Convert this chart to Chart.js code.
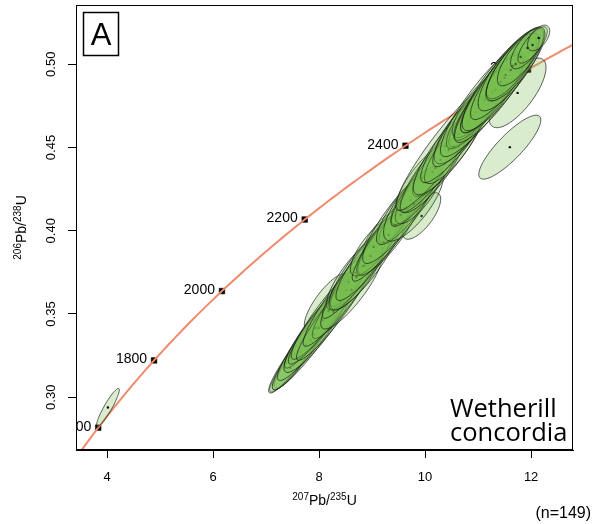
<!DOCTYPE html>
<html>
<head>
<meta charset="utf-8">
<script src="https://cdn.jsdelivr.net/npm/chart.js@4.4.1/dist/chart.umd.min.js"></script>
<style>
  html, body { margin: 0; padding: 0; background: #fff; }
  #wrap { width: 603px; height: 524px; position: relative; }
</style>
</head>
<body>
<div id="wrap"><canvas id="concordia-chart"></canvas></div>
<script>
// axis ticks
const xTicks = [4, 6, 8, 10, 12];
const yTicks = [0.30, 0.35, 0.40, 0.45, 0.50];

// labelled ages on the concordia (Ma)
const markerAges = [1600, 1800, 2000, 2200, 2400, 2600];

// analyses: 207Pb/235U, 206Pb/238U, 2s errors and error correlation
const ratio75 = [8.142, 9.198, 9.934, 11.745,
    7.462, 7.594, 7.651, 7.745, 7.840, 7.896, 7.934, 7.991, 8.066, 8.179, 8.274, 8.406, 8.519, 8.557, 8.613, 8.689,
    8.708, 8.821, 8.850, 8.972, 9.029, 9.217, 9.311, 9.406, 9.444, 9.538, 9.632, 9.726, 9.783, 9.877, 9.953, 10.010,
    10.142, 10.198, 10.292, 10.387, 10.444, 10.538, 10.632, 10.727, 10.821, 10.859, 10.953, 11.009, 11.123, 11.198,
    11.274, 11.330, 11.387, 11.425, 11.500, 11.519, 11.613, 11.651, 11.708, 11.802, 11.934, 12.028, 12.142,
    11.598, 4.017];
const ratio68 = [0.3572, 0.3969, 0.4089, 0.4828,
    0.3176, 0.3236, 0.3272, 0.3314, 0.3344, 0.3380, 0.3416, 0.3416, 0.3464, 0.3518, 0.3512, 0.3572, 0.3644, 0.3692, 0.3644, 0.3746,
    0.3722, 0.3788, 0.3790, 0.3848, 0.3903, 0.3933, 0.3975, 0.4035, 0.4035, 0.4095, 0.4137, 0.4185, 0.4161, 0.4215, 0.4317, 0.4293,
    0.4353, 0.4377, 0.4425, 0.4509, 0.4485, 0.4503, 0.4581, 0.4623, 0.4653, 0.4677, 0.4713, 0.4756, 0.4785, 0.4810,
    0.4833, 0.4846, 0.4881, 0.4894, 0.4918, 0.4936, 0.4966, 0.4990, 0.5002, 0.5044, 0.5098, 0.5116, 0.5158,
    0.4502, 0.2938];
const err75 = [0.420, 0.380, 0.360, 0.536,
    0.304, 0.472, 0.583, 0.697, 0.723, 0.681, 0.585, 0.653, 0.645, 0.704, 0.700, 0.534, 0.819, 0.368, 0.581, 0.549,
    0.491, 0.759, 0.662, 0.653, 0.438, 0.485, 0.602, 0.277, 0.819, 0.715, 0.549, 0.374, 0.566, 0.438, 0.491, 0.653,
    0.608, 0.438, 0.766, 0.940, 0.666, 0.549, 0.715, 0.555, 0.374, 0.715, 0.549, 0.496, 0.834, 0.657,
    0.608, 0.774, 0.715, 0.725, 0.359, 0.662, 0.613, 0.496, 0.555, 0.438, 0.322, 0.277, 0.209,
    0.585, 0.215];
const err68 = [0.0170, 0.0150, 0.0140, 0.0209,
    0.0122, 0.0193, 0.0241, 0.0289, 0.0299, 0.0280, 0.0241, 0.0267, 0.0265, 0.0290, 0.0290, 0.0219, 0.0338, 0.0147, 0.0234, 0.0220,
    0.0196, 0.0314, 0.0268, 0.0267, 0.0173, 0.0196, 0.0244, 0.0109, 0.0338, 0.0292, 0.0220, 0.0148, 0.0223, 0.0173, 0.0196, 0.0267,
    0.0245, 0.0173, 0.0315, 0.0387, 0.0269, 0.0220, 0.0292, 0.0221, 0.0148, 0.0292, 0.0220, 0.0197, 0.0340, 0.0267,
    0.0245, 0.0316, 0.0292, 0.0293, 0.0140, 0.0268, 0.0246, 0.0197, 0.0221, 0.0173, 0.0125, 0.0109, 0.0077,
    0.0192, 0.0115];
const errCorr = [0.80, 0.72, 0.72, 0.73,
    0.85, 0.92, 0.95, 0.95, 0.94, 0.93, 0.93, 0.90, 0.93, 0.93, 0.94, 0.90, 0.94, 0.82, 0.86, 0.84,
    0.82, 0.94, 0.87, 0.90, 0.78, 0.85, 0.87, 0.76, 0.94, 0.89, 0.84, 0.79, 0.76, 0.78, 0.82, 0.90,
    0.85, 0.78, 0.92, 0.93, 0.85, 0.84, 0.89, 0.81, 0.79, 0.89, 0.84, 0.80, 0.89, 0.89,
    0.85, 0.89, 0.89, 0.86, 0.72, 0.87, 0.82, 0.80, 0.81, 0.78, 0.71, 0.76, 0.54,
    0.85, 0.92];

// decay constants (1/Ma)
const lambda235 = 9.8485e-4;
const lambda238 = 1.55125e-4;
const conc75 = t => Math.exp(lambda235 * t) - 1;
const conc68 = t => Math.exp(lambda238 * t) - 1;

const curveAges = [];
for (let t = 1300; t <= 3000; t += 10) curveAges.push(t);

const FONT = '"Liberation Sans", Arial, sans-serif';

function drawIsotopeText(ctx, parts, cx, baseline) {
    const big = '14px ' + FONT, small = '10px ' + FONT;
    let total = 0;
    parts.forEach(([txt, sup]) => { ctx.font = sup ? small : big; total += ctx.measureText(txt).width; });
    let x = cx - total / 2;
    ctx.textAlign = 'left';
    ctx.textBaseline = 'alphabetic';
    parts.forEach(([txt, sup]) => {
        ctx.font = sup ? small : big;
        ctx.fillText(txt, x, sup ? baseline - 5 : baseline);
        x += ctx.measureText(txt).width;
    });
}

const concordiaPlugin = {
    id: 'concordiaExtras',
    beforeDatasetsDraw(chart) {
        const { ctx, chartArea: a, scales: { x, y } } = chart;
        ctx.save();
        ctx.beginPath();
        ctx.rect(a.left, a.top, a.right - a.left, a.bottom - a.top);
        ctx.clip();
        ctx.font = '14px ' + FONT;
        ctx.fillStyle = '#000';
        ctx.textAlign = 'right';
        ctx.textBaseline = 'middle';
        markerAges.forEach(t => {
            ctx.fillText(String(t), x.getPixelForValue(conc75(t)) - 7, y.getPixelForValue(conc68(t)) - 1);
        });
        ctx.restore();
    },
    afterDatasetsDraw(chart) {
        const { ctx, chartArea: a, scales: { x, y } } = chart;
        ctx.save();
        ctx.beginPath();
        ctx.rect(a.left, a.top, a.right - a.left, a.bottom - a.top);
        ctx.clip();
        const n = 90;
        ratio75.forEach((cx, i) => {
            const cy = ratio68[i], sx = err75[i], sy = err68[i], r = errCorr[i];
            const q = Math.sqrt(1 - r * r);
            ctx.beginPath();
            for (let k = 0; k <= n; k++) {
                const th = 2 * Math.PI * k / n;
                const px = x.getPixelForValue(cx + sx * Math.cos(th));
                const py = y.getPixelForValue(cy + sy * (r * Math.cos(th) + q * Math.sin(th)));
                if (k === 0) ctx.moveTo(px, py); else ctx.lineTo(px, py);
            }
            ctx.closePath();
            ctx.fillStyle = 'rgba(120, 192, 78, 0.28)';
            ctx.fill();
            ctx.strokeStyle = 'rgba(20, 20, 20, 0.85)';
            ctx.lineWidth = 0.8;
            ctx.stroke();
            ctx.beginPath();
            ctx.arc(x.getPixelForValue(cx), y.getPixelForValue(cy), 1.2, 0, 2 * Math.PI);
            ctx.fillStyle = '#000';
            ctx.fill();
        });
        ctx.restore();
    },
    afterDraw(chart) {
        const { ctx, chartArea: a, scales: { x, y } } = chart;
        ctx.save();
        ctx.strokeStyle = '#000';
        ctx.lineWidth = 1;
        ctx.strokeRect(a.left + 0.5, a.top + 0.5, a.right - a.left - 1, a.bottom - a.top - 1);

        ctx.fillStyle = '#000';
        ctx.font = '13px ' + FONT;
        ctx.textAlign = 'center';
        ctx.textBaseline = 'alphabetic';
        xTicks.forEach(v => ctx.fillText(String(v), x.getPixelForValue(v), a.bottom + 31));
        yTicks.forEach(v => {
            ctx.save();
            ctx.translate(a.left - 21, y.getPixelForValue(v));
            ctx.rotate(-Math.PI / 2);
            ctx.fillText(v.toFixed(2), 0, 0);
            ctx.restore();
        });

        drawIsotopeText(ctx, [['207', true], ['Pb/', false], ['235', true], ['U', false]], (a.left + a.right) / 2, a.bottom + 55);
        ctx.save();
        ctx.translate(26, (a.top + a.bottom) / 2);
        ctx.rotate(-Math.PI / 2);
        drawIsotopeText(ctx, [['206', true], ['Pb/', false], ['238', true], ['U', false]], 0, 0);
        ctx.restore();

        ctx.lineWidth = 1.5;
        ctx.strokeRect(83.5, 12.5, 35, 43);
        ctx.font = '31px ' + FONT;
        ctx.textAlign = 'center';
        ctx.textBaseline = 'alphabetic';
        ctx.fillText('A', 101, 45);

        ctx.font = '25.5px "Open Sans", sans-serif';
        ctx.textAlign = 'left';
        ctx.fillText('Wetherill', 450, 417);
        ctx.fillText('concordia', 450, 441);

        ctx.font = '16px ' + FONT;
        ctx.textAlign = 'right';
        ctx.fillText('(n=149)', 591, 518);
        ctx.restore();
    }
};

const concordiaChart = new Chart(document.getElementById('concordia-chart').getContext('2d'), {
    type: 'scatter',
    data: {
        datasets: [{
            type: 'line',
            data: curveAges.map(t => ({ x: conc75(t), y: conc68(t) })),
            borderColor: 'rgb(240, 138, 108)',
            backgroundColor: 'transparent',
            borderWidth: 2,
            pointRadius: 0,
            tension: 0,
            fill: false,
        }, {
            data: markerAges.map(t => ({ x: conc75(t), y: conc68(t) })),
            pointStyle: 'rect',
            pointRadius: 4,
            backgroundColor: '#000',
            borderColor: '#000',
            borderWidth: 0.5,
        }]
    },
    options: {
        responsive: true,
        maintainAspectRatio: false,
        animation: false,
        devicePixelRatio: 1,
        layout: { padding: { top: 5, right: 30, left: 0, bottom: 0 } },
        plugins: {
            legend: { display: false },
            title: { display: false },
            tooltip: { enabled: false }
        },
        scales: {
            x: {
                type: 'linear',
                min: 3.415,
                max: 12.79,
                afterBuildTicks: s => { s.ticks = xTicks.map(v => ({ value: v })); },
                afterFit: s => { s.height = 74; },
                ticks: { display: false },
                grid: { drawOnChartArea: false, drawTicks: true, tickLength: 8, color: '#000', lineWidth: 1 },
                border: { display: true, color: '#000', width: 1 }
            },
            y: {
                type: 'linear',
                min: 0.2683,
                max: 0.5356,
                afterBuildTicks: s => { s.ticks = yTicks.map(v => ({ value: v })); },
                afterFit: s => { s.width = 76; },
                ticks: { display: false },
                grid: { drawOnChartArea: false, drawTicks: true, tickLength: 8, color: '#000', lineWidth: 1 },
                border: { display: true, color: '#000', width: 1 }
            }
        }
    },
    plugins: [concordiaPlugin]
});
</script>
</body>
</html>
